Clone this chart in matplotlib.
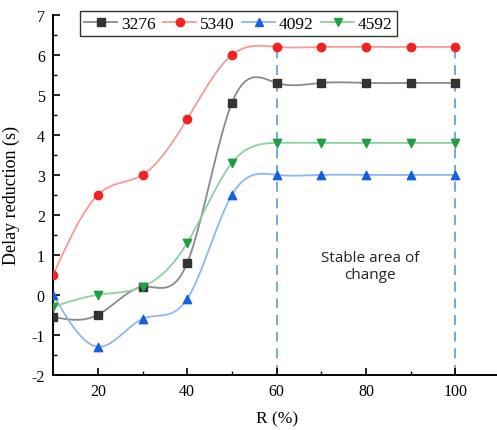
import numpy as np
import matplotlib.pyplot as plt

plt.rcParams['font.family'] = ['Liberation Serif', 'DejaVu Serif']
plt.rcParams['axes.unicode_minus'] = False

r = [10, 20, 30, 40, 50, 60, 70, 80, 90, 100]
d3276 = [-0.55, -0.5, 0.2, 0.8, 4.8, 5.3, 5.3, 5.3, 5.3, 5.3]
d5340 = [0.5, 2.5, 3.0, 4.4, 6.0, 6.2, 6.2, 6.2, 6.2, 6.2]
d4092 = [0.0, -1.3, -0.6, -0.1, 2.5, 3.0, 3.0, 3.0, 3.0, 3.0]
d4592 = [-0.3, 0.0, 0.2, 1.3, 3.3, 3.8, 3.8, 3.8, 3.8, 3.8]
names = ['3276', '5340', '4092', '4592']


def spline(x, y, n=400):
    # natural cubic spline through the points
    x = np.asarray(x, float)
    y = np.asarray(y, float)
    k = len(x)
    h = np.diff(x)
    A = np.zeros((k, k))
    b = np.zeros(k)
    A[0, 0] = A[-1, -1] = 1
    for i in range(1, k - 1):
        A[i, i - 1] = h[i - 1]
        A[i, i] = 2 * (h[i - 1] + h[i])
        A[i, i + 1] = h[i]
        b[i] = 6 * ((y[i + 1] - y[i]) / h[i] - (y[i] - y[i - 1]) / h[i - 1])
    m = np.linalg.solve(A, b)
    xs = np.linspace(x[0], x[-1], n)
    idx = np.clip(np.searchsorted(x, xs) - 1, 0, k - 2)
    x0, x1 = x[idx], x[idx + 1]
    hh = x1 - x0
    t0, t1 = x1 - xs, xs - x0
    ys = (m[idx] * t0**3 + m[idx + 1] * t1**3) / (6 * hh) \
        + (y[idx] / hh - m[idx] * hh / 6) * t0 \
        + (y[idx + 1] / hh - m[idx + 1] * hh / 6) * t1
    return xs, ys


fig = plt.figure(figsize=(4.97, 4.31), dpi=100)
ax = fig.add_axes([0.107, 0.128, 0.899, 0.835])

series = [d3276, d5340, d4092, d4592]
markers = ['s', 'o', '^', 'v']
mcolors = ['#333333', '#f52222', '#1560dd', '#1f9e45']
lcolors = ['#8a8a8a', '#f79a9a', '#8fb6ef', '#8fd0a2']

handles = []
for vals, mk, mc, lc, nm in zip(series, markers, mcolors, lcolors, names):
    xs, ys = spline(r, vals)
    ax.plot(xs, ys, color=lc, lw=1.3, zorder=2)
    # scatter so the points sitting on the left spine get cut in half
    ax.scatter(r, vals, marker=mk, s=36, color=mc, zorder=3, clip_on=True)
    h, = ax.plot([], [], color=lc, lw=1.3, marker=mk, ms=6,
                 mfc=mc, mec=mc, label=nm)
    handles.append(h)

ax.vlines([60, 100], -2, 6.2, colors='#5b9bd5', linestyles=(0, (6, 4)), lw=1.2, zorder=1)
ax.text(81, 0.72, 'Stable area of\nchange', ha='center', va='center',
        fontsize=11, family=['Open Sans', 'DejaVu Sans'], color='#222222')

ax.set_xlim(10, 110)
ax.set_ylim(-2, 7)
ax.set_xticks([20, 40, 60, 80, 100])
ax.set_xticks([30, 50, 70, 90], minor=True)
ax.set_yticks(range(-2, 8))
ax.set_yticks(np.arange(-1.5, 7, 1), minor=True)
ax.tick_params(direction='in', length=5, width=1.2, labelsize=11.5, pad=6)
ax.tick_params(which='minor', direction='in', length=3, width=1)
for s in ['top', 'right']:
    ax.spines[s].set_visible(False)
for s in ['left', 'bottom']:
    ax.spines[s].set_linewidth(1.4)

ax.set_xlabel('R (%)', fontsize=12.5, labelpad=8)
ax.set_ylabel('Delay reduction (s)', fontsize=13, labelpad=8)

leg = ax.legend(handles=handles, ncol=4, loc='upper left', bbox_to_anchor=(0.06, 1.01),
                fontsize=12.5, frameon=True, fancybox=False, edgecolor='black',
                handlelength=1.9, handletextpad=0.2, columnspacing=0.45,
                borderpad=0.25, borderaxespad=0)
leg.get_frame().set_linewidth(1.0)

fig.savefig('out.png', dpi=100)
